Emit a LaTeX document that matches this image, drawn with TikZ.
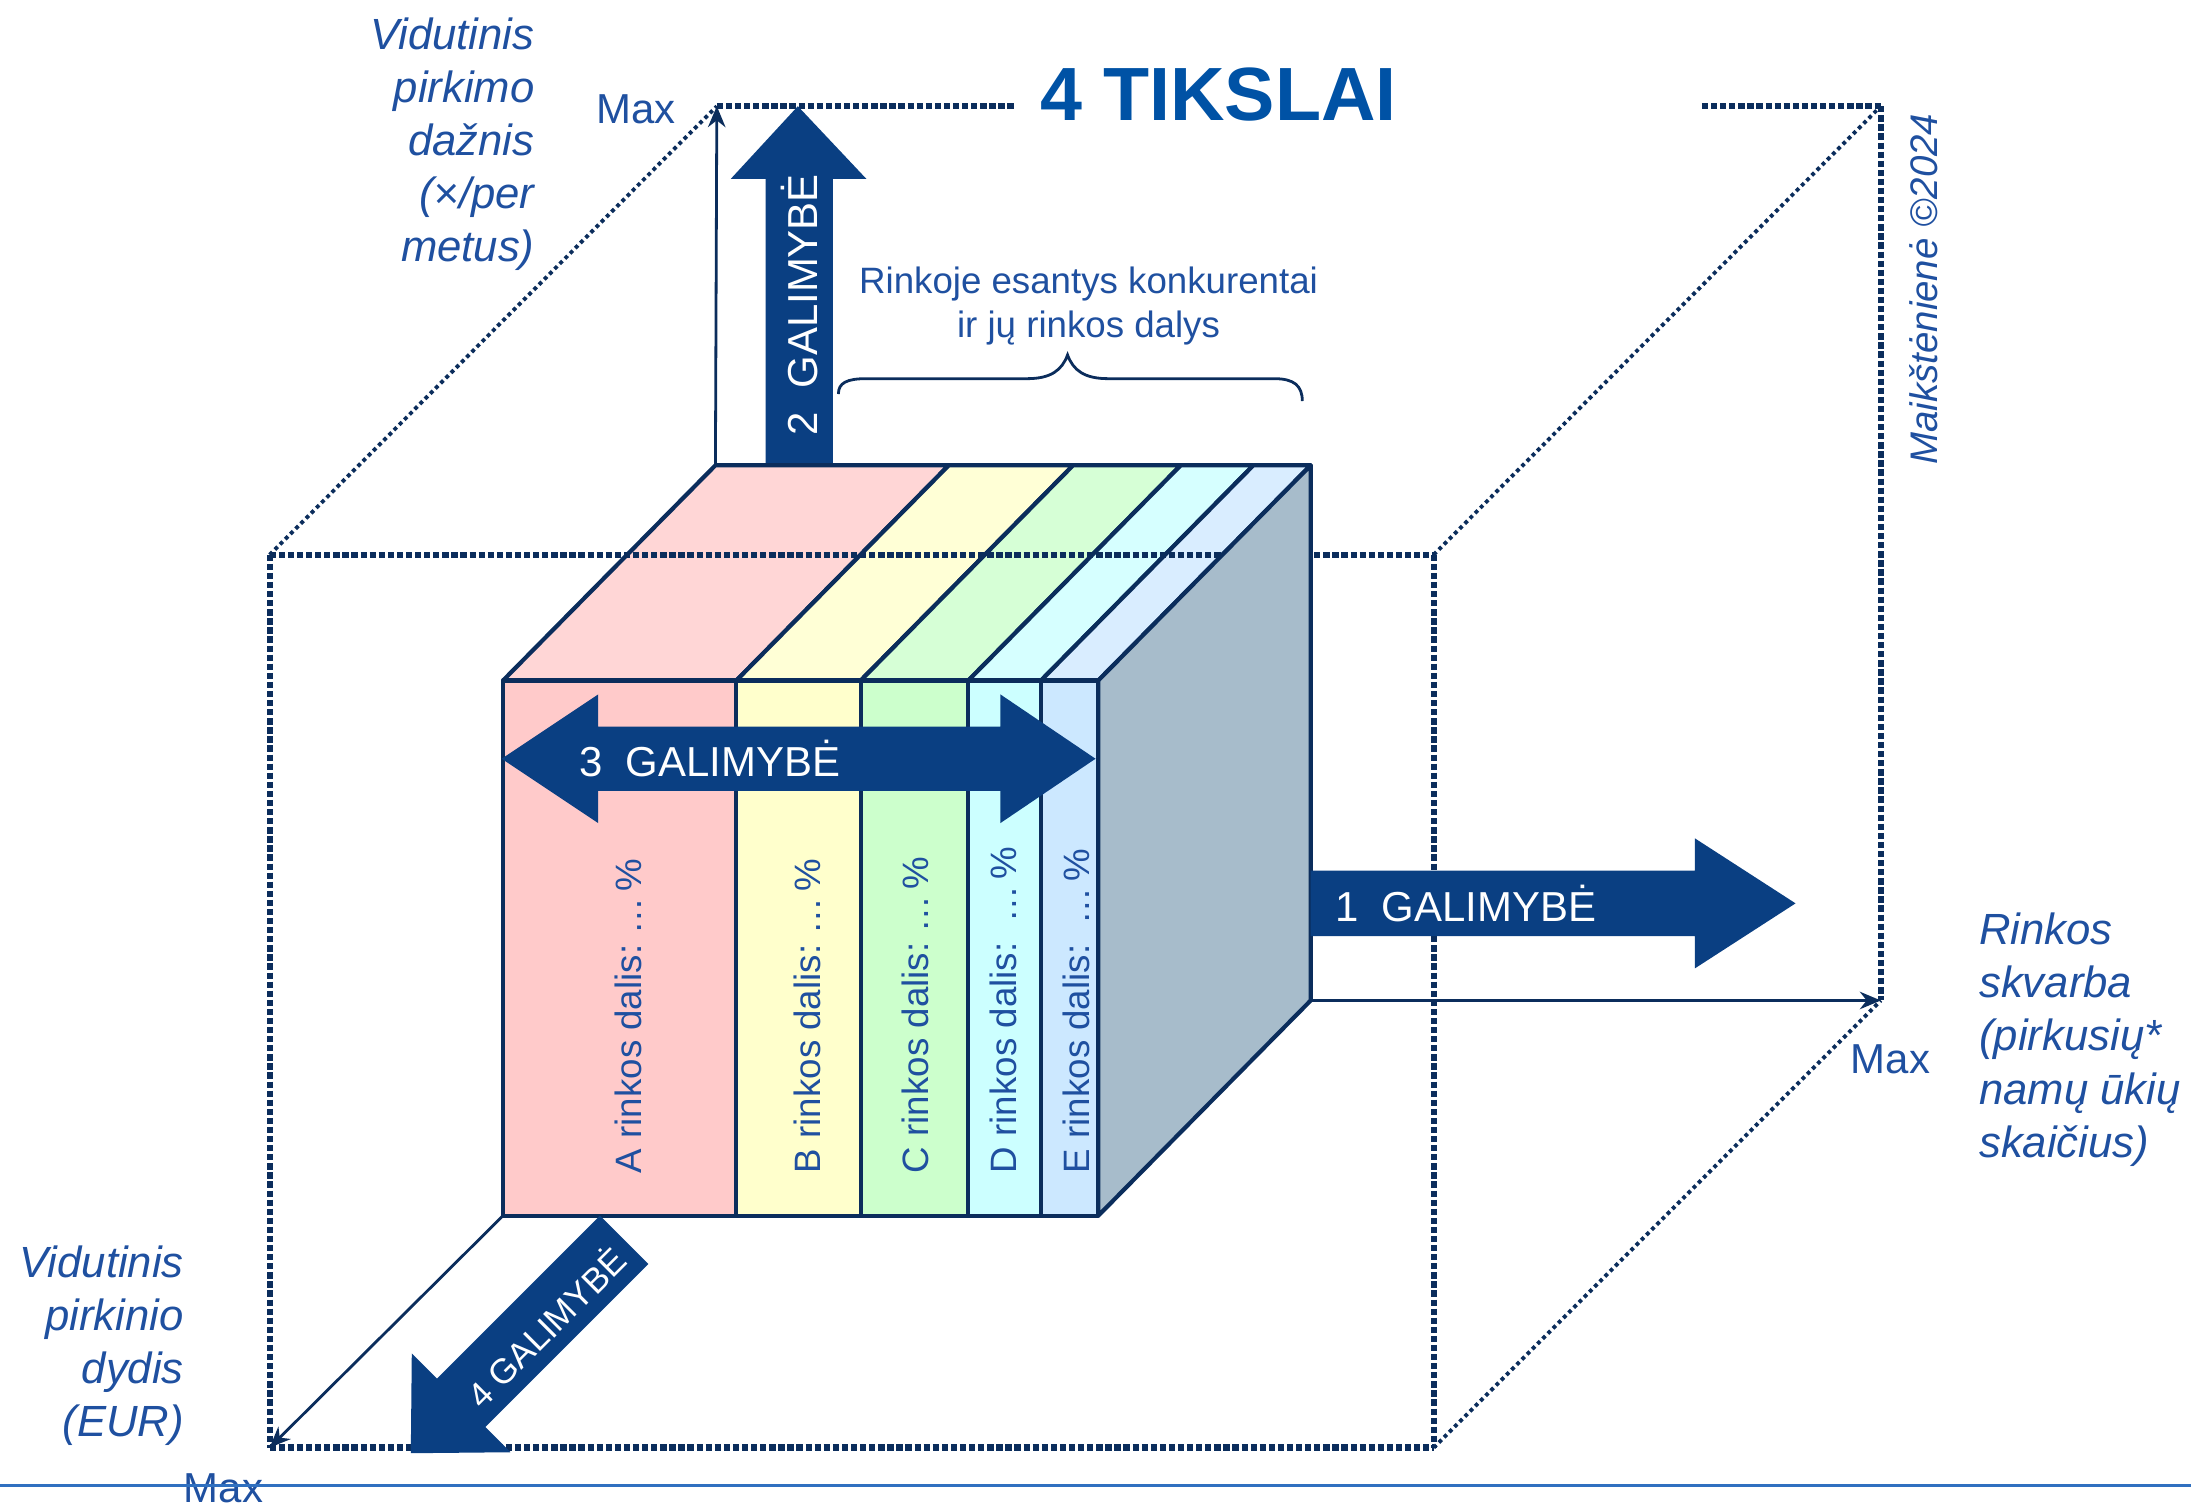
\documentclass[tikz,border=0pt]{standalone}
\usepackage{fontspec}
\setmainfont{Liberation Sans}
\usetikzlibrary{arrows.meta}

\definecolor{navy}{HTML}{0B2D5C}
\definecolor{arrowblue}{HTML}{0A3F82}
\definecolor{labelblue}{HTML}{1F50A0}
\definecolor{titleblue}{HTML}{0052A5}
\definecolor{footerblue}{HTML}{3070C0}
\definecolor{toppink}{HTML}{FFD6D6}
\definecolor{frontpink}{HTML}{FFCACA}
\definecolor{topyellow}{HTML}{FFFFD6}
\definecolor{frontyellow}{HTML}{FFFFCC}
\definecolor{topgreen}{HTML}{D6FFD6}
\definecolor{frontgreen}{HTML}{CCFFCC}
\definecolor{topcyan}{HTML}{D6FFFF}
\definecolor{frontcyan}{HTML}{CCFFFF}
\definecolor{topsky}{HTML}{D9EDFF}
\definecolor{frontsky}{HTML}{CCE8FF}
\definecolor{sideface}{HTML}{A7BCCB}

\tikzset{
  boxdots/.style={navy, line width=1.8pt, dash pattern=on 1.8pt off 0.8pt},
  diagdots/.style={navy, line width=1.1pt, dash pattern=on 1.1pt off 1pt},
  axisline/.style={navy, line width=0.8pt, -{Stealth[length=6pt,width=5pt]}},
  cubeline/.style={draw=navy, line width=1.2pt, line join=round},
  bigarrow/.style={fill=arrowblue},
  arrowtext/.style={white, inner sep=0pt, font=\fontsize{12}{14}\selectfont},
  axistext/.style={labelblue, inner sep=0pt, font=\fontsize{12.5}{15.2}\selectfont\itshape},
  maxtext/.style={labelblue, inner sep=0pt, font=\fontsize{12}{14}\selectfont},
  sharetext/.style={labelblue, inner sep=0pt, rotate=90, anchor=west, font=\fontsize{10.5}{12}\selectfont},
}

\begin{document}
\begin{tikzpicture}[x=0.4pt, y=-0.4pt]
  \useasboundingbox (0,0) rectangle (1568,1078);

  \pgfmathsetmacro{\dx}{152};
  \pgfmathsetmacro{\dy}{-154};
  \pgfmathsetmacro{\ftop}{487};
  \pgfmathsetmacro{\fbot}{870};
  \pgfmathsetmacro{\btop}{\ftop+\dy};
  \pgfmathsetmacro{\bbot}{\fbot+\dy};

  % corners of the dotted box
  \coordinate (ftl) at (193,397);
  \coordinate (ftr) at (1026,397);
  \coordinate (fbl) at (193,1036);
  \coordinate (fbr) at (1026,1036);
  \coordinate (btl) at (513,76);
  \coordinate (btr) at (1346,76);
  \coordinate (bbr) at (1346,716);

  % corners of the cube where the axes start
  \coordinate (ystart) at (512,\btop);
  \coordinate (xstart) at (938,\bbot);
  \coordinate (zstart) at (360,\fbot);

  % back of the box
  \draw[boxdots] (btl) -- (727,76);
  \draw[boxdots] (1218,76) -- (btr);
  \draw[boxdots] (btr) -- (bbr);
  \draw[diagdots] (ftl) -- (btl);
  \draw[diagdots] (ftr) -- (btr);
  \draw[diagdots] (fbr) -- (bbr);

  % axes
  \draw[axisline] (ystart) -- (btl);
  \draw[axisline] (xstart) -- (bbr);
  \draw[axisline] (zstart) -- (fbl);

  % 2 galimybe
  \fill[bigarrow] (548,\btop) -- (548,128) -- (523,128) -- (571,76) -- (620,128) -- (596,128) -- (596,\btop) -- cycle;

  % top of the cube
  \foreach \xa/\xb/\col in {360/527/pink, 527/616/yellow, 616/693/green, 693/745/cyan, 745/786/sky}
    \filldraw[cubeline, fill=top\col] (\xa,\ftop) -- (\xb,\ftop) -- (\xb+\dx,\btop) -- (\xa+\dx,\btop) -- cycle;

  \draw[boxdots] (ftl) -- (ftr);

  \filldraw[cubeline, fill=sideface] (786,\ftop) -- (786+\dx,\btop) -- (786+\dx,\bbot) -- (786,\fbot) -- cycle;

  % front of the cube
  \foreach \xa/\xb/\col/\lbl/\xt/\gap in {360/527/pink/A/450/{\ }, 527/616/yellow/B/578/{\ }, 616/693/green/C/655/{\ }, 693/745/cyan/D/718/{\ \ }, 745/786/sky/E/770/{\ \ }}
  {
    \filldraw[cubeline, fill=front\col] (\xa,\ftop) rectangle (\xb,\fbot);
    \node[sharetext] (share\lbl) at (\xt,840) {\lbl\ rinkos dalis:\gap…\,\%};
  }

  \draw[boxdots] (ftl) -- (fbl);
  \draw[boxdots] (ftr) -- (fbr);
  \draw[boxdots] (fbl) -- (fbr);

  % 1 galimybe
  \fill[bigarrow] (938,623) -- (1213,623) -- (1213,600) -- (1285,646.5) -- (1213,693) -- (1213,670) -- (938,670) -- cycle;
  % 3 galimybe
  \fill[bigarrow] (359,543) -- (428,497) -- (428,520) -- (716,520) -- (716,497) -- (784,543)
    -- (716,589) -- (716,566) -- (428,566) -- (428,589) -- cycle;
  % 4 galimybe
  \fill[bigarrow] (294,1040) -- (294.7,968.5) -- (312.8,986.6) -- (429.4,870) -- (464,904.6)
    -- (347.4,1021.2) -- (365.5,1039.3) -- cycle;

  \node[arrowtext, anchor=west] (opp1) at (955,646.5) {1~ GALIMYBĖ};
  \node[arrowtext, rotate=90] (opp2) at (572,218) {2~ GALIMYBĖ};
  \node[arrowtext] (opp3) at (508,543) {3~ GALIMYBĖ};
  \node[arrowtext, rotate=45, font=\fontsize{10}{12}\selectfont] (opp4) at (390,949) {4 GALIMYBĖ};

  % brace over the competitors
  \draw[navy, line width=0.8pt] (600,282) .. controls (600,274) and (606,271) .. (620,271) -- (735,271)
    .. controls (752,271) and (760,265) .. (764,254) .. controls (768,265) and (776,271) .. (793,271)
    -- (912,271) .. controls (926,271) and (932,276) .. (932,287);
  \node[labelblue, align=center, inner sep=0pt, font=\fontsize{10.5}{12.8}\selectfont] (rivals) at (779,219)
    {Rinkoje esantys konkurentai\\ir jų rinkos dalys};

  % title and labels
  \node[titleblue, inner sep=0pt, font=\fontsize{21.6}{24}\selectfont\bfseries] (title) at (872,68) {4 TIKSLAI};

  \node[axistext, align=right, anchor=east] (ylabel) at (383,103)
    {Vidutinis\\pirkimo\\dažnis\\(×/per\\metus)};
  \node[axistext, align=right, anchor=east] (zlabel) at (132,963)
    {Vidutinis\\pirkinio\\dydis\\(EUR)};
  \node[axistext, align=left, anchor=west] (xlabel) at (1416,744)
    {Rinkos\\skvarba\\(pirkusių*\\namų ūkių\\skaičius)};

  \node[maxtext] (ymax) at (455,78) {Max};
  \node[maxtext] (xmax) at (1353,758) {Max};
  \node[maxtext] (zmax) at (160,1065) {Max};

  \node[labelblue, rotate=90, inner sep=0pt, font=\fontsize{11}{13}\selectfont\itshape] (author) at (1377,207)
    {Maikštėnienė ©2024};

  \draw[footerblue, line width=0.9pt] (0,1063) -- (1568,1063);
\end{tikzpicture}
\end{document}
